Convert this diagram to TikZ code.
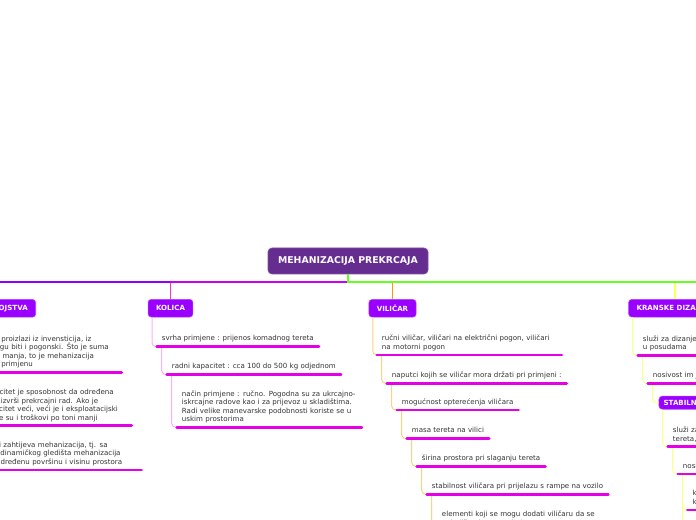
\documentclass[tikz,border=0pt]{standalone}
\usepackage{fontspec}
\setmainfont{DejaVu Sans}
\usepackage{xcolor}
\usepackage{tikz}
\usetikzlibrary{positioning}
\definecolor{hubpurple}{HTML}{662D91}
\definecolor{topicviolet}{HTML}{9900FF}
\definecolor{ulmagenta}{HTML}{E600E6}
\definecolor{textgray}{HTML}{333333}
\definecolor{trunkviolet}{HTML}{8C00FF}
\definecolor{trunkmagenta}{HTML}{CC00EE}
\definecolor{trunkgreen}{HTML}{66FF22}
\definecolor{kolpink}{HTML}{FF33CC}
\definecolor{kolpinklt}{HTML}{FFB0F0}
\definecolor{vilorange}{HTML}{FF9900}
\definecolor{vilorangelt}{HTML}{FFD080}
\definecolor{kryellow}{HTML}{FFFF55}
\definecolor{kryellowlt}{HTML}{FFFF88}
\definecolor{svvioletlt}{HTML}{C080FF}
\tikzset{
  hub/.style={fill=hubpurple, draw=hubpurple!85!white, line width=.5pt, rounded corners=3pt, text=white, font=\fontsize{7}{8.4}\selectfont\bfseries, minimum width=120pt, minimum height=19.5pt, inner sep=0pt},
  tpc/.style={fill=topicviolet, draw=topicviolet!75!white, line width=.4pt, rounded corners=2.5pt, text=white, font=\fontsize{5.3}{6.4}\selectfont\bfseries, inner xsep=6pt, inner ysep=0pt, minimum height=13.3pt},
  tpcs/.style={tpc, inner xsep=3.5pt, minimum height=9.8pt},
  itmbase/.style={anchor=south west, inner xsep=3.75pt, inner ysep=2.9pt, align=left, text=textgray, font=\fontsize{5.3}{6.4}\selectfont},
  itm/.style={itmbase, text depth=1.2pt},
  itmw/.style={itmbase, text width=131pt},
  uline/.style={draw=ulmagenta, line width=2pt, line cap=round},
  conn/.style={line width=.75pt, rounded corners=3pt},
  trunk/.style={line width=1.4pt},
}
\begin{document}
\begin{tikzpicture}[x=0.75pt, y=-0.75pt]
  \useasboundingbox (0,0) rectangle (696,520);
  \clip (0,0) rectangle (696,520);
  % centre and main branches
  \node[hub] (hub) at (348,261) {MEHANIZACIJA PREKRCAJA};
  \coordinate (fork) at (348,281.7);
  \coordinate (far) at (760,299);
  \node[tpc, anchor=east] (sv) at (36,308.3) {OSNOVNA SVOJSTVA};
  \node[tpc] (kol) at (170.5,308.2) {KOLICA};
  \node[tpc] (vil) at (392.5,308.3) {VILIČAR};
  \node[tpc, anchor=west] (kr) at (628.3,308.2) {KRANSKE DIZALICE};
  \draw[trunk, trunkviolet] (hub.south) -- (fork) -| (sv.north);
  \draw[trunk, trunkmagenta] (fork) -| (kol.north);
  \draw[trunk, kolpink] ([yshift=-1pt]kol.north |- fork) -- (kol.north);
  \draw[trunk, vilorange] (fork) -| (vil.north);
  \draw[trunk, kryellow] (fork) -| (kr.north);
  \draw[trunk, trunkgreen] (hub.south) -- (fork) -| (far);

  % svojstva
  \node[itmw] (sv1) at (-63.5,372.3) {Cijena prekrcaja proizlazi iz invensticija, iz\\troškova koji mogu biti i pogonski. Što je suma\\svih tih troškova manja, to je mehanizacija\\ekonomičnija za primjenu};
  \node[itmw] (sv2) at (-53.5,425.7) {Tehnički kapacitet je sposobnost da određena\\mehanizacija izvrši prekrcajni rad. Ako je\\tehnički kapacitet veći, veći je i eksploatacijski\\učinak veći, te su i troškovi po toni manji};
  \node[itmw] (sv3) at (-43.5,470) {Prostor koji zahtijeva mehanizacija, tj. sa\\statičkog i dinamičkog gledišta mehanizacija\\zahtijeva određenu površinu i visinu prostora};

  % kolica
  \node[itm] (kol1) at (156.7,346.7) {svrha primjene : prijenos komadnog tereta};
  \node[itm] (kol2) at (166.7,374.7) {radni kapacitet : cca 100 do 500 kg odjednom};
  \node[itmw] (kol3) at (176.7,427.3) {način primjene : ručno. Pogodna su za ukrcajno-\\iskrcajne radove kao i za prijevoz u skladištima.\\Radi velike manevarske podobnosti koriste se u\\uskim prostorima};

  % vilicar
  \node[itmw] (vil1) at (376.7,355) {ručni viličar, viličari na električni pogon, viličari\\na motorni pogon};
  \node[itm] (vil2) at (386.7,383.3) {naputci kojih se viličar mora držati pri primjeni :};
  \node[itm] (vil3) at (396.7,410) {mogućnost opterećenja viličara};
  \node[itm] (vil4) at (406.7,438.7) {masa tereta na vilici};
  \node[itm] (vil5) at (416.7,466.3) {širina prostora pri slaganju tereta};
  \node[itm] (vil6) at (426.7,494.3) {stabilnost viličara pri prijelazu s rampe na vozilo};
  \node[itmw] (vil7) at (436.7,531) {elementi koji se mogu dodati viličaru da se\\poboljša njegova primjena};

  % kranske dizalice
  \node[itmw] (kr1) at (637.7,355.3) {služi za dizanje i prijenos tereta\\u posudama};
  \node[itm] (kr2) at (647.7,383.3) {nosivost im je ograničena};
  \node[tpcs, anchor=west] (st) at (658.7,402.7) {STABILNE DIZALICE};
  \node[itmw] (st1) at (667.7,446.7) {služi za dizanje i spuštanje\\tereta, a montira se na stalnom mjestu};
  \node[itm] (st2) at (677.7,474) {nosivost im je velika};
  \node[itmw] (st3) at (687.3,510) {koriste se na mjestima gdje je\\koncentriran veliki promet tereta};
  \coordinate (st4) at (687.3,545);

  % connectors
  \draw[conn, svvioletlt] ([xshift=3.2pt]sv.south west) |- (sv1.south west);
  \draw[conn, kolpinklt] ([xshift=3.2pt]kol.south west) |- (kol1.south west);
  \draw[conn, vilorangelt] ([xshift=3.2pt]vil.south west) |- (vil1.south west);
  \draw[conn, kryellowlt] ([xshift=3.2pt]kr.south west) |- (kr1.south west);
  \draw[conn, kryellowlt] ([xshift=3.75pt]kr2.south west) |- (st.west);
  \draw[conn, kryellowlt] ([xshift=3pt]st.south west) |- (st1.south west);
  \draw[conn, kryellowlt] ([xshift=3.75pt]st2.south west) |- (st4);
  \foreach \a/\b in {sv1/sv2,sv2/sv3}
    \draw[conn, svvioletlt] ([xshift=3.75pt]\a.south west) |- (\b.south west);
  \foreach \a/\b in {kol1/kol2,kol2/kol3}
    \draw[conn, kolpinklt] ([xshift=3.75pt]\a.south west) |- (\b.south west);
  \foreach \a/\b in {vil1/vil2,vil2/vil3,vil3/vil4,vil4/vil5,vil5/vil6,vil6/vil7}
    \draw[conn, vilorangelt] ([xshift=3.75pt]\a.south west) |- (\b.south west);
  \foreach \a/\b in {kr1/kr2,st1/st2,st2/st3}
    \draw[conn, kryellowlt] ([xshift=3.75pt]\a.south west) |- (\b.south west);

  % underlines
  \foreach \n in {sv1,sv2,sv3,kol1,kol2,kol3,vil1,vil2,vil3,vil4,vil5,vil6,vil7,kr1,kr2,st1,st2,st3}
    \draw[uline] (\n.south west) -- (\n.south east);
\end{tikzpicture}
\end{document}
